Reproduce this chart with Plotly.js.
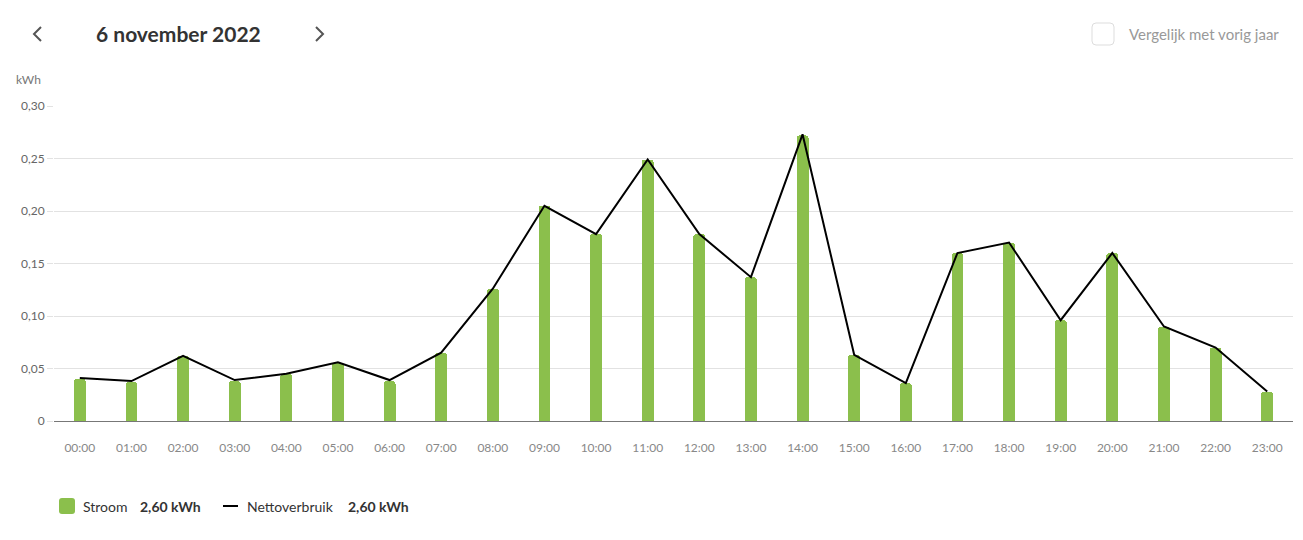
<!DOCTYPE html>
<html>
<head>
<meta charset="utf-8">
<script src="https://cdn.plot.ly/plotly-3.0.1.min.js"></script>
<style>
  html, body { margin: 0; padding: 0; background: #fff; }
  #chart { width: 1303px; height: 540px; }
</style>
</head>
<body>
<div id="chart"></div>
<script>
// ---- data ----
const hours = ["00:00","01:00","02:00","03:00","04:00","05:00","06:00","07:00","08:00","09:00","10:00","11:00",
               "12:00","13:00","14:00","15:00","16:00","17:00","18:00","19:00","20:00","21:00","22:00","23:00"];
const stroom = [0.040,0.037,0.062,0.038,0.045,0.055,0.038,0.065,0.126,0.205,0.178,0.249,
                0.178,0.137,0.272,0.063,0.036,0.160,0.170,0.096,0.160,0.090,0.070,0.028];
const netto  = [0.041,0.038,0.062,0.039,0.045,0.056,0.039,0.065,0.126,0.205,0.178,0.249,
                0.178,0.137,0.273,0.063,0.036,0.160,0.170,0.096,0.160,0.090,0.070,0.028];
const yTicks = [0, 0.05, 0.10, 0.15, 0.20, 0.25, 0.30];
const titleText = "6 november 2022";
const unitLabel = "kWh";
const compareLabel = "Vergelijk met vorig jaar";
const seriesNames = ["Stroom", "Nettoverbruik"];

// ---- helpers ----
const fmt = v => v === 0 ? "0" : v.toFixed(2).replace(".", ",");
const sum = a => a.reduce((s, v) => s + v, 0);

const W = 1303, H = 540;
const M = { l: 54, r: 10, t: 106, b: 119 };
const PW = W - M.l - M.r, PH = H - M.t - M.b;
const px = x => (x - M.l) / PW;
const py = y => (H - M.b - y) / PH;

const FONT = "Lato, 'Source Sans Pro', 'Open Sans', sans-serif";
const GREEN = "#8bbf4c";

function roundRect(x0, y0, x1, y1, r) {
  const rx = r / PW, ry = r / PH;
  const X0 = px(x0), X1 = px(x1), Y0 = py(y0), Y1 = py(y1); // Y0 top (bigger)
  return `M ${X0+rx},${Y0} L ${X1-rx},${Y0} Q ${X1},${Y0} ${X1},${Y0-ry} L ${X1},${Y1+ry} Q ${X1},${Y1} ${X1-rx},${Y1} ` +
         `L ${X0+rx},${Y1} Q ${X0},${Y1} ${X0},${Y1+ry} L ${X0},${Y0-ry} Q ${X0},${Y0} ${X0+rx},${Y0} Z`;
}

const traces = [
  {
    type: "bar", x: hours, y: stroom, name: seriesNames[0],
    width: 0.23,
    marker: { color: GREEN, cornerradius: 3, line: { width: 0 } },
    showlegend: false, hoverinfo: "x+y"
  },
  {
    type: "scatter", mode: "lines", x: hours, y: netto, name: seriesNames[1],
    line: { color: "#000", width: 2 },
    showlegend: false, hoverinfo: "x+y"
  }
];

const shapes = [
  // prev / next chevrons
  { type: "path", xref: "paper", yref: "paper",
    path: `M ${px(41)},${py(27)} L ${px(34)},${py(34)} L ${px(41)},${py(41)}`,
    line: { color: "#555", width: 2 } },
  { type: "path", xref: "paper", yref: "paper",
    path: `M ${px(316)},${py(27)} L ${px(323)},${py(34)} L ${px(316)},${py(41)}`,
    line: { color: "#555", width: 2 } },
  // checkbox
  { type: "path", xref: "paper", yref: "paper",
    path: roundRect(1092, 23, 1114, 45, 4),
    line: { color: "#dddddd", width: 1 }, fillcolor: "#fff" },
  // legend markers
  { type: "path", xref: "paper", yref: "paper",
    path: roundRect(59, 498, 75, 514, 3),
    line: { width: 0 }, fillcolor: GREEN },
  { type: "line", xref: "paper", yref: "paper",
    x0: px(223), x1: px(238), y0: py(506), y1: py(506),
    line: { color: "#000", width: 2 } }
];

const total1 = fmt(sum(stroom)) + " kWh";
const total2 = fmt(sum(netto)) + " kWh";

const ann = (text, x, y, opts) => Object.assign({
  text, xref: "paper", yref: "paper", x: px(x), y: py(y),
  xanchor: "left", yanchor: "middle", showarrow: false,
  font: { family: FONT, size: 14, color: "#333" }
}, opts || {});

const annotations = [
  ann(titleText, 178, 34, { xanchor: "center", font: { family: FONT, size: 21, color: "#333", weight: 700 } }),
  ann(compareLabel, 1127, 34, { font: { family: FONT, size: 15, color: "#999" } }),
  ann(unitLabel, 43, 79, { xanchor: "right", font: { family: FONT, size: 12, color: "#777" } }),
  ann(seriesNames[0], 81, 506),
  ann(total1, 138, 506, { font: { family: FONT, size: 14, color: "#333", weight: 700 } }),
  ann(seriesNames[1], 245, 506),
  ann(total2, 346, 506, { font: { family: FONT, size: 14, color: "#333", weight: 700 } })
];

const layout = {
  width: W, height: H,
  margin: M,
  paper_bgcolor: "#fff", plot_bgcolor: "#fff",
  font: { family: FONT, color: "#666" },
  showlegend: false,
  bargap: 0,
  xaxis: {
    type: "category",
    showgrid: false,
    showline: true, linecolor: "#777", linewidth: 1,
    ticks: "outside", ticklen: 16, tickcolor: "rgba(0,0,0,0)",
    tickfont: { family: FONT, size: 12, color: "#888" },
    zeroline: false, fixedrange: true
  },
  yaxis: {
    range: [0, 0.30],
    tickvals: yTicks, ticktext: yTicks.map(fmt),
    showgrid: true, gridcolor: "#e2e2e2", gridwidth: 1,
    zeroline: false, showline: false,
    ticks: "outside", ticklen: 6, tickcolor: "#e2e2e2",
    tickfont: { family: FONT, size: 12, color: "#666" },
    fixedrange: true
  },
  shapes, annotations
};

Plotly.newPlot("chart", traces, layout, { displayModeBar: false, staticPlot: true });
</script>
</body>
</html>
